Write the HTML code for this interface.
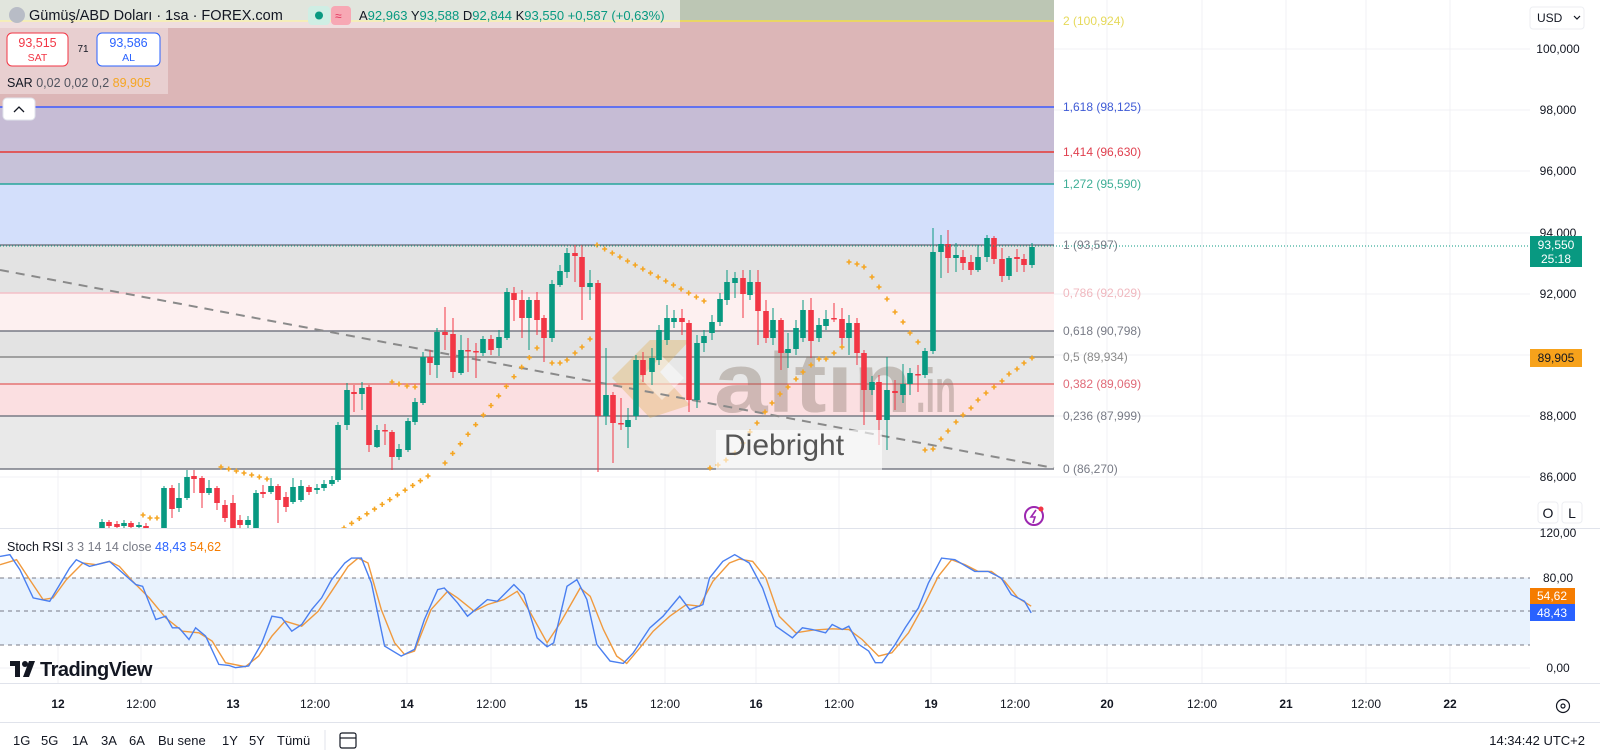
<!DOCTYPE html>
<html><head><meta charset="utf-8"><style>
html,body{margin:0;padding:0;background:#fff;width:1600px;height:756px;overflow:hidden;font-family:"Liberation Sans","DejaVu Sans",sans-serif}
svg{position:absolute;left:0;top:0}
</style></head><body>
<svg id="s" width="1600" height="756" viewBox="0 0 1600 756" xmlns="http://www.w3.org/2000/svg" font-family="Liberation Sans, DejaVu Sans, sans-serif">
<defs><clipPath id="mp"><rect x="0" y="0" width="1530" height="528"/></clipPath></defs>
<g id="grid" stroke="#f0f1f4" stroke-width="1"></g>
<g id="fib"></g>
<g id="wm">
 <polygon points="612,378 650,340 690,340 660,372 690,405 650,418" fill="rgba(225,180,100,0.4)"/>
 <polygon points="640,378 662,356 684,378 662,400" fill="rgba(255,255,255,0.45)"/>
 <text x="714" y="412" font-size="84" font-weight="bold" fill="rgba(130,115,100,0.36)" textLength="198" lengthAdjust="spacingAndGlyphs">altın</text>
 <text x="916" y="412" font-size="62" font-weight="bold" fill="rgba(130,115,100,0.36)" textLength="40" lengthAdjust="spacingAndGlyphs">.in</text>
</g>
<line x1="0" y1="270" x2="1054" y2="468" stroke="#8a8a8a" stroke-width="2" stroke-dasharray="9,7"/>
<g id="cand" clip-path="url(#mp)"></g>
<g id="sar" clip-path="url(#mp)" stroke="#f5a623" stroke-width="1.6"></g>
<rect x="716" y="430" width="166" height="40" fill="rgba(255,255,255,0.6)"/>
<text x="724" y="447" font-size="30" fill="#555" dominant-baseline="middle">Diebright</text>
<line x1="0" y1="246" x2="1530" y2="246" stroke="#089981" stroke-width="1" stroke-dasharray="1,2"/>
<rect x="0" y="0" width="680" height="28" fill="rgba(255,255,255,0.55)"/>
<rect x="0" y="28" width="168" height="66" fill="rgba(255,255,255,0.35)"/>
<circle cx="17" cy="15" r="8" fill="#b8bcc6"/>
<text x="29" y="20" font-size="14.5" fill="#131722">Gümüş/ABD Doları · 1sa · FOREX.com</text>
<rect x="308" y="6" width="22" height="19" rx="4" fill="#cfeee4"/><circle cx="319" cy="15.5" r="4" fill="#089981"/>
<rect x="331" y="6" width="20" height="19" rx="4" fill="#f7a8b4"/><text x="335" y="20" font-size="12" fill="#e0315a">≈</text>
<text x="359" y="20" font-size="13"><tspan fill="#131722">A</tspan><tspan fill="#089981">92,963 </tspan><tspan fill="#131722">Y</tspan><tspan fill="#089981">93,588 </tspan><tspan fill="#131722">D</tspan><tspan fill="#089981">92,844 </tspan><tspan fill="#131722">K</tspan><tspan fill="#089981">93,550 +0,587 (+0,63%)</tspan></text>
<rect x="7" y="33" width="61" height="33" rx="5" fill="#fff" stroke="#f23645" stroke-width="1"/>
<text x="37.5" y="47" font-size="12.5" fill="#f23645" text-anchor="middle">93,515</text>
<text x="37.5" y="61" font-size="10.5" fill="#f23645" text-anchor="middle">SAT</text>
<text x="83" y="52" font-size="10" fill="#131722" text-anchor="middle">71</text>
<rect x="97" y="33" width="63" height="33" rx="5" fill="#fff" stroke="#2962ff" stroke-width="1"/>
<text x="128.5" y="47" font-size="12.5" fill="#2962ff" text-anchor="middle">93,586</text>
<text x="128.5" y="61" font-size="10.5" fill="#2962ff" text-anchor="middle">AL</text>
<text x="7" y="87" font-size="12.5"><tspan fill="#131722">SAR </tspan><tspan fill="#50535e">0,02 0,02 0,2 </tspan><tspan fill="#f5a623"> 89,905</tspan></text>
<rect x="3" y="98" width="32" height="22" rx="4" fill="#fff" stroke="#e0e3eb"/>
<path d="M14 112 l5 -5 l5 5" fill="none" stroke="#131722" stroke-width="1.3"/>
<circle cx="1034" cy="516" r="9" fill="none" stroke="#9c27b0" stroke-width="2"/>
<path d="M1036 510 l-5 7 h4 l-2 6" fill="none" stroke="#9c27b0" stroke-width="1.6"/>
<circle cx="1041" cy="509" r="2.5" fill="#f23645"/>
<line x1="0" y1="528.5" x2="1600" y2="528.5" stroke="#e0e3eb"/>
<line x1="0" y1="683.5" x2="1600" y2="683.5" stroke="#e0e3eb"/>
<line x1="0" y1="722.5" x2="1600" y2="722.5" stroke="#e0e3eb"/>
<rect x="0" y="578" width="1530" height="67" fill="#e8f2fd"/>
<g stroke="#787b86" stroke-width="1" stroke-dasharray="4,4">
<line x1="0" y1="578" x2="1530" y2="578"/><line x1="0" y1="611" x2="1530" y2="611"/><line x1="0" y1="645" x2="1530" y2="645"/>
</g>
<g id="stoch" fill="none" stroke-width="1.4"></g>
<text x="7" y="551" font-size="12.5"><tspan fill="#131722">Stoch RSI </tspan><tspan fill="#787b86">3 3 14 14 close </tspan><tspan fill="#2962ff"> 48,43 </tspan><tspan fill="#f57c00"> 54,62</tspan></text>
<g transform="translate(10,661)">
<path d="M0 0 h10 v16 h-5 v-11 h-5 z M13 16 l6 -16 h6 l-6 16 z" fill="#131722"/><circle cx="15" cy="3" r="3" fill="#131722"/>
<text x="30" y="15" font-size="20" font-weight="bold" fill="#131722" letter-spacing="-0.5">TradingView</text>
</g>
<rect x="1530" y="7" width="54" height="22" rx="3" fill="#fff" stroke="#eceef2"/>
<text x="1537" y="22" font-size="12" fill="#131722">USD</text>
<path d="M1574 16 l3 3 l3 -3" fill="none" stroke="#131722" stroke-width="1.2"/>
<g id="ax" font-size="12" fill="#131722" text-anchor="middle"></g>
<rect x="1530" y="236" width="52" height="31" fill="#089981"/>
<text x="1556" y="249" font-size="12" fill="#fff" text-anchor="middle">93,550</text>
<text x="1556" y="263" font-size="12" fill="#fff" text-anchor="middle">25:18</text>
<rect x="1530" y="349" width="52" height="18" fill="#f7a21b"/>
<text x="1556" y="362" font-size="12" fill="#131722" text-anchor="middle">89,905</text>
<rect x="1530" y="588" width="45" height="16" fill="#f57c00"/>
<text x="1552" y="600" font-size="12" fill="#fff" text-anchor="middle">54,62</text>
<rect x="1530" y="604" width="45" height="17" fill="#2962ff"/>
<text x="1552" y="617" font-size="12" fill="#fff" text-anchor="middle">48,43</text>
<rect x="1538" y="502" width="20" height="21" rx="3" fill="#fff" stroke="#eceef2"/>
<text x="1548" y="518" font-size="14" fill="#131722" text-anchor="middle">O</text>
<rect x="1562" y="502" width="20" height="21" rx="3" fill="#fff" stroke="#eceef2"/>
<text x="1572" y="518" font-size="14" fill="#131722" text-anchor="middle">L</text>
<g id="tx" font-size="12" fill="#131722" text-anchor="middle"></g>
<circle cx="1563" cy="706" r="6.5" fill="none" stroke="#131722" stroke-width="1.2"/><circle cx="1563" cy="706" r="2" fill="none" stroke="#131722" stroke-width="1.2"/>
<g font-size="13" fill="#131722">
<text x="13" y="745">1G</text><text x="41" y="745">5G</text><text x="72" y="745">1A</text><text x="101" y="745">3A</text><text x="129" y="745">6A</text><text x="158" y="745">Bu sene</text><text x="222" y="745">1Y</text><text x="249" y="745">5Y</text><text x="277" y="745">Tümü</text>
</g>
<line x1="325" y1="730" x2="325" y2="750" stroke="#e0e3eb"/>
<rect x="340" y="733" width="16" height="15" rx="2" fill="none" stroke="#131722" stroke-width="1.2"/>
<line x1="340" y1="738" x2="356" y2="738" stroke="#131722" stroke-width="1.2"/>
<text x="1585" y="745" font-size="13" fill="#131722" text-anchor="end">14:34:42 UTC+2</text>
</svg>
<script>
var NS="http://www.w3.org/2000/svg";
function el(p,t,a,txt){var e=document.createElementNS(NS,t);for(var k in a)e.setAttribute(k,a[k]);if(txt!=null)e.textContent=txt;p.appendChild(e);return e;}
var g=document.getElementById('grid');
[58,141,233,315,407,491,581,665,756,839,931,1015,1107,1202,1286,1366,1450].forEach(function(x){el(g,'line',{x1:x,y1:0,x2:x,y2:683});});
[49,110,171,233,294,355,416,477,578,622,668].forEach(function(y){el(g,'line',{x1:0,y1:y,x2:1530,y2:y});});
var f=document.getElementById('fib');
var bands=[[0,21,'#bcc6b4'],[21,107,'#dcb6b7'],[107,152,'#c6bcd5'],[152,184,'#c7c2d9'],[184,245,'#d3dffb'],[245,293,'#e3e3e3'],[293,331,'#fdf0f0'],[331,357,'#e3e3e3'],[357,384,'#e7e7e7'],[384,416,'#fbdfe1'],[416,469,'#e9e9e9']];
bands.forEach(function(b){el(f,'rect',{x:0,y:b[0],width:1054,height:b[1]-b[0],fill:b[2]});});
var lv=[[21,'#f2de4a','#e6d95a','2 (100,924)'],[107,'#3d5afe','#3f5bd6','1,618 (98,125)'],[152,'#e53935','#e0404f','1,414 (96,630)'],[184,'#26a69a','#3fae96','1,272 (95,590)'],[245,'#787b86','#787b86','1 (93,597)'],[293,'#f4c0c8','#f0b8bf','0,786 (92,029)'],[331,'#787b86','#787b86','0,618 (90,798)'],[357,'#8a8a8a','#8a8a8a','0,5 (89,934)'],[384,'#e57373','#e06a78','0,382 (89,069)'],[416,'#787b86','#787b86','0,236 (87,999)'],[469,'#787b86','#787b86','0 (86,270)']];
lv.forEach(function(l){el(f,'line',{x1:0,y1:l[0],x2:1054,y2:l[0],stroke:l[1],'stroke-width':1.5});el(f,'text',{x:1063,y:l[0]+4,'font-size':12,fill:l[2]},l[3]);});
var C=[[102,528,522,519,530],[109,522,526,520,529],[117,524,527,521,530],[124,526,523,520,529],[131,523,527,521,530],[139,527,525,522,530],[146,526,528,523,530],
[164,528,488,486,530],[172,488,509,485,518],[179,508,498,483,512],[187,498,477,470,500],[194,476,479,470,493],[202,478,493,476,508],[209,493,488,480,495],[217,488,503,486,510],[225,505,518,500,522],[233,503,530,495,530],
[240,520,525,515,530],[248,525,520,516,530],
[256,528,493,490,530],[263,492,494,485,498],[271,492,486,478,494],[278,486,500,484,523],[286,497,507,492,512],[293,502,487,478,504],[301,500,486,480,502],[309,487,492,485,495],[317,490,488,484,494],[324,488,484,480,491],[332,484,480,476,486],[338,480,425,422,482],[347,425,390,383,430],[354,392,394,385,412],[362,394,388,382,410],[369,387,445,385,452],[377,447,430,425,448],[385,430,431,424,445],[392,432,457,430,470],[399,457,449,444,460],[408,450,421,418,452],[415,422,402,398,425],[423,403,357,352,405],
[430,357,363,350,375],[437,365,332,328,378],[445,332,335,307,350],[453,334,372,318,378],[461,373,350,335,375],[468,350,351,338,372],[476,351,352,343,378],[483,353,339,336,356],[491,339,350,335,355],[499,348,337,330,356],[507,338,292,288,340],[514,293,300,287,321],[522,300,318,290,338],[529,318,300,297,350],[537,300,320,292,335],[544,318,338,315,362],[552,338,284,280,342],[560,285,271,265,287],[567,272,253,248,278],[575,253,256,245,282],[582,257,287,245,320],[590,287,283,270,300],[598,283,416,280,472],[606,416,395,348,425],[613,395,423,392,463],[621,423,424,398,430],[628,427,420,408,448],[636,416,360,355,420],[643,360,375,352,382],[652,372,358,348,385],[659,360,330,325,365],[667,340,318,305,345],[674,322,318,310,328],[682,318,322,309,335],[689,323,400,320,412],[697,400,343,335,408],[704,343,336,330,352],[712,333,322,315,340],[720,322,299,293,326],[727,300,282,270,305],[735,283,278,272,298],[743,278,294,270,318],
[750,295,282,270,300],[758,282,311,270,345],[766,311,338,300,343],[773,338,320,308,345],[781,320,353,318,370],[788,353,349,333,368],[796,349,328,320,355],[803,338,310,300,342],[811,310,341,298,358],[819,338,325,318,342],[826,326,319,310,330],[834,318,319,303,322],[842,319,338,308,345],[849,338,323,315,355],[857,323,353,318,365],[864,353,390,350,425],[872,390,382,376,395],[879,382,420,375,445],[887,420,390,357,450],[895,391,393,380,410],[903,395,384,364,403],[910,384,373,368,395],[918,374,375,365,392],[925,375,351,348,378],[933,351,252,228,354],[941,252,244,235,278],[948,244,258,230,273],[956,258,255,243,272],[963,257,263,250,270],[971,262,270,255,275],[978,270,257,245,272],[987,257,238,235,262],[994,238,259,236,264],[1002,259,276,248,282],[1009,276,258,256,280],[1017,257,259,249,272],[1024,259,265,254,272],[1032,265,247,243,268]];
var cg=document.getElementById('cand');
C.forEach(function(c){var up=c[2]<c[1];var col=up?'#089981':'#f23645';var t=Math.min(c[1],c[2]),b=Math.max(c[1],c[2]);
el(cg,'line',{x1:c[0],y1:c[3],x2:c[0],y2:c[4],stroke:col,'stroke-width':1});
el(cg,'rect',{x:c[0]-2.8,y:t,width:5.6,height:Math.max(1.5,b-t),fill:col});});
var S=[[143,515],[150,518],[157,518]];
function seg(a,b,n){for(var i=0;i<n;i++){var t=i/(n-1);S.push([a[0]+(b[0]-a[0])*t,a[1]+(b[1]-a[1])*t]);}}
seg([221,467],[267,479],7);seg([344,528],[428,476],12);
[[392,382],[399,384],[407,386],[415,387]].forEach(function(p){S.push(p);});
seg([445,463],[537,348],13);
[[552,363],[560,363],[567,360],[575,353],[582,347],[590,339]].forEach(function(p){S.push(p);});
seg([597,245],[704,301],15);
[[710,468],[718,465],[726,460],[735,453],[743,443],[750,432],[757,423],[765,412],[772,403],[780,394],[788,387],[796,379],[803,372],[811,365],[819,359],[826,359],[834,353],[842,347],
[849,262],[857,264],[864,267],[872,277],[879,287],[887,299],[895,312],[903,322],[910,333],[918,342],
[925,450],[933,449],[941,439],[948,431],[956,422],[963,415],[971,408],[978,400],[986,393],[994,387],[1002,381],[1009,374],[1017,369],[1024,363],[1032,358]].forEach(function(p){S.push(p);});
var sg=document.getElementById('sar');
S.forEach(function(p){el(sg,'path',{d:'M'+(p[0]-2.5)+' '+p[1]+'h5M'+p[0]+' '+(p[1]-2.5)+'v5'});});
var B=[[0,140],[15,135],[30,180],[50,265],[75,275],[105,175],[115,150],[135,170],[165,155],[185,190],[205,225],[215,230],[235,330],[250,320],[260,355],[270,355],[285,390],[295,355],[310,380],[330,465],[345,468],[355,475],[375,470],[395,400],[410,320],[425,325],[440,365],[455,345],[470,300],[485,265],[500,210],[520,160],[530,145],[545,145],[560,220],[580,410],[605,440],[625,420],[640,330],[660,240],[670,235],[690,280],[705,320],[720,295],[735,270],[750,275],[775,225],[790,255],[810,385],[825,412],[835,400],[855,230],[870,210],[885,270],[900,405],[920,455],[940,462],[955,430],[980,355],[1000,320],[1025,260],[1040,300],[1060,285],[1070,205],[1090,155],[1108,135],[1130,160],[1150,235],[1170,350],[1195,385],[1210,355],[1225,360],[1245,370],[1255,345],[1270,360],[1280,350],[1295,405],[1310,425],[1320,460],[1330,460],[1350,405],[1365,355],[1385,295],[1400,220],[1420,145],[1440,150],[1470,185],[1490,185],[1510,205],[1525,255],[1545,275],[1555,310]];
var O=[[0,165],[25,150],[45,210],[65,270],[80,265],[100,210],[125,160],[145,165],[165,155],[180,170],[200,215],[225,265],[250,325],[275,365],[300,370],[320,395],[340,460],[370,472],[390,440],[410,380],[430,335],[455,350],[480,305],[500,245],[525,170],[540,145],[555,160],[575,300],[595,400],[610,435],[625,425],[650,300],[675,245],[690,265],[715,305],[735,285],[760,270],[780,245],[800,310],[825,400],[845,340],[875,235],[890,260],[910,360],[930,440],[945,462],[965,415],[985,365],[1010,320],[1035,285],[1055,290],[1075,215],[1100,160],[1115,148],[1135,155],[1155,205],[1175,320],[1200,370],[1225,362],[1255,358],[1280,360],[1300,390],[1325,440],[1345,430],[1370,370],[1395,280],[1415,200],[1435,150],[1455,165],[1475,185],[1495,185],[1515,215],[1535,265],[1555,290]];
function pts(a){return a.map(function(p){return (p[0]/1.508).toFixed(1)+','+(578+(p[1]-205)/3.01).toFixed(1);}).join(' ');}
var st=document.getElementById('stoch');
el(st,'polyline',{points:pts(O),stroke:'#f09a3e'});
el(st,'polyline',{points:pts(B),stroke:'#4a7ff0'});
var ax=document.getElementById('ax');
[[49,'100,000'],[110,'98,000'],[171,'96,000'],[233,'94,000'],[294,'92,000'],[416,'88,000'],[477,'86,000'],[533,'120,00'],[578,'80,00'],[668,'0,00']].forEach(function(a){el(ax,'text',{x:1558,y:a[0]+4},a[1]);});
var tx=document.getElementById('tx');
[[58,'12'],[141,'12:00'],[233,'13'],[315,'12:00'],[407,'14'],[491,'12:00'],[581,'15'],[665,'12:00'],[756,'16'],[839,'12:00'],[931,'19'],[1015,'12:00'],[1107,'20'],[1202,'12:00'],[1286,'21'],[1366,'12:00'],[1450,'22']].forEach(function(a){var e=el(tx,'text',{x:a[0],y:708},a[1]);if(a[1].length<3)e.setAttribute('font-weight','bold');});
</script>
</body></html>
